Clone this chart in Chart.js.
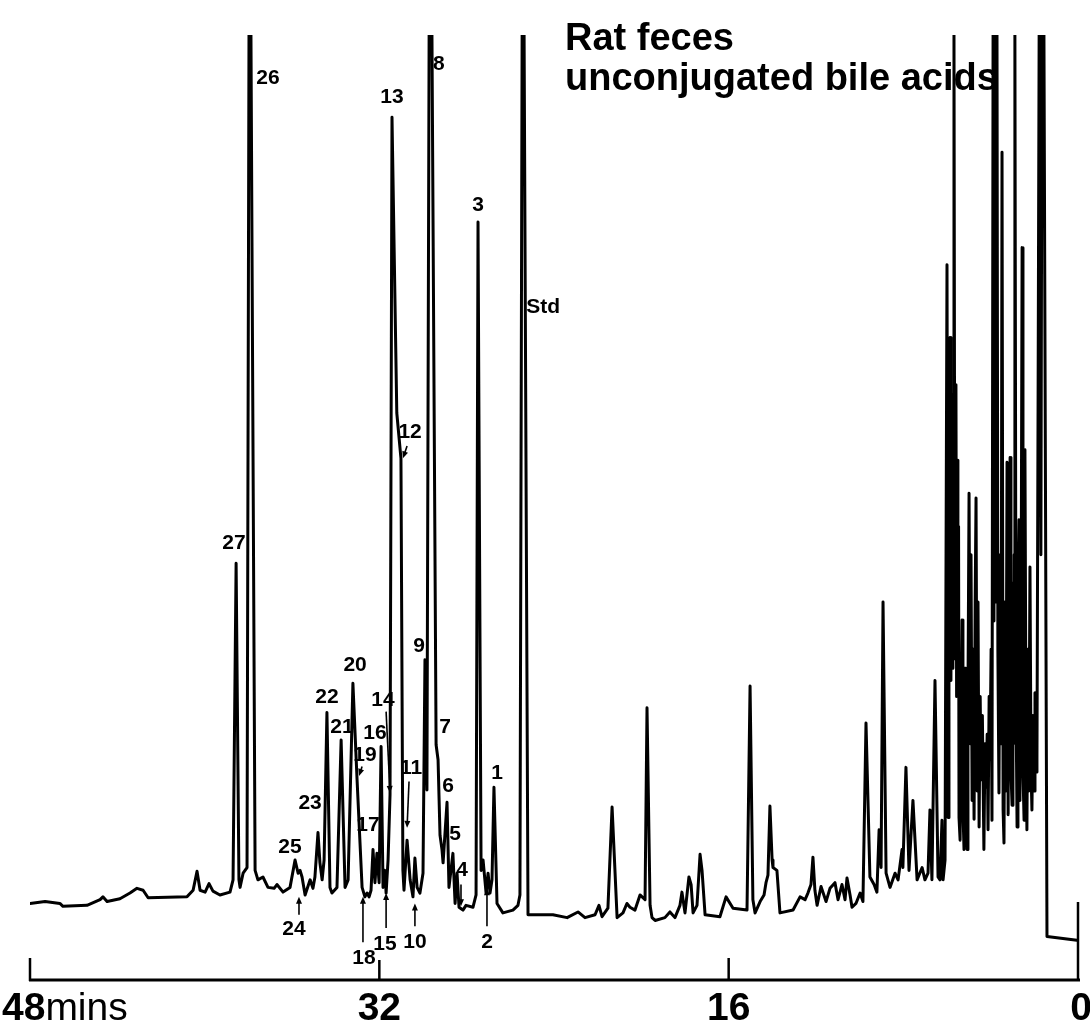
<!DOCTYPE html>
<html>
<head>
<meta charset="utf-8">
<title>Rat feces - unconjugated bile acids</title>
<script src="https://cdn.jsdelivr.net/npm/chart.js@4.4.1/dist/chart.umd.min.js"></script>
<style>
  html, body { margin: 0; padding: 0; background: #fff; }
  #wrap { width: 1090px; height: 1026px; }
</style>
</head>
<body>
<div id="wrap"><canvas id="gc" width="1090" height="1026"></canvas></div>
<script>
// GC recorder trace, rat feces unconjugated bile acids
// x = retention time in minutes (runs 48 -> 0), y = % of recorder full scale

const tickValues = [48, 32, 16, 0];
const tickLabels = ['48', '32', '16', '0'];
const tickUnit = 'mins';

const titleLines = ['Rat feces', 'unconjugated bile acids'];

// trace, [min, %]
const traceEarly = [
  [48.00, 8.1], [47.31, 8.3], [46.63, 8.1], [46.49, 7.8], [45.39, 7.9], [44.79, 8.5], [44.66, 8.8],
  [44.47, 8.3], [43.88, 8.6], [43.42, 9.2], [43.10, 9.7], [42.82, 9.5], [42.59, 8.7], [40.81, 8.8],
  [40.53, 9.5], [40.35, 11.5], [40.21, 9.5], [39.98, 9.3], [39.80, 10.2], [39.62, 9.4], [39.30, 9.0],
  [38.84, 9.3], [38.70, 10.6], [38.56, 44.1], [38.43, 10.6], [38.38, 9.8], [38.24, 11.3], [38.06, 11.9],
  [37.97, 100], [37.88, 100], [37.69, 11.6], [37.56, 10.6], [37.33, 10.9], [37.10, 9.8], [36.82, 9.7],
  [36.69, 10.1], [36.41, 9.3]
];

const traceBileAcids = [
  [36.09, 9.8], [35.86, 12.7], [35.72, 11.3], [35.63, 11.6], [35.54, 10.9], [35.40, 9.0], [35.17, 10.6],
  [35.04, 9.7], [34.95, 10.9], [34.81, 15.6], [34.72, 12.4], [34.62, 10.6], [34.53, 12.7], [34.40, 28.3],
  [34.26, 9.8], [34.17, 9.2], [33.94, 9.8], [33.75, 25.4], [33.57, 9.8], [33.43, 10.6], [33.21, 31.4],
  [33.02, 21.2], [32.79, 9.8], [32.66, 8.8], [32.56, 9.2], [32.47, 8.8], [32.38, 9.5], [32.29, 13.8],
  [32.20, 10.3], [32.11, 13.4], [32.01, 10.3], [31.92, 24.7], [31.83, 9.8], [31.74, 11.6], [31.69, 9.2],
  [31.60, 12.7], [31.51, 19.6], [31.42, 91.3], [31.20, 60.0], [31.01, 55.2], [30.92, 11.6], [30.87, 9.5],
  [30.73, 14.8], [30.59, 10.6], [30.46, 8.8], [30.37, 12.9], [30.27, 9.8], [30.14, 9.2], [30.00, 11.3],
  [29.91, 33.9], [29.82, 20.1], [29.72, 100], [29.59, 100], [29.40, 24.9], [29.31, 23.3], [29.22, 15.3],
  [29.13, 13.8], [29.08, 12.4], [28.90, 18.8], [28.81, 9.8], [28.72, 11.6], [28.63, 13.4], [28.53, 8.1],
  [28.44, 11.3], [28.35, 7.7], [28.17, 7.4], [28.03, 7.9], [27.71, 7.7], [27.57, 9.0], [27.48, 80.2],
  [27.34, 11.6], [27.25, 12.7], [27.11, 9.2], [27.02, 11.3], [26.93, 9.2], [26.84, 10.6], [26.75, 20.4],
  [26.61, 8.1], [26.34, 7.1], [25.88, 7.4], [25.65, 7.9], [25.56, 9.0], [25.46, 100], [25.37, 100],
  [25.19, 6.9], [24.64, 6.9]
];

const traceMiddle = [
  [24.05, 6.9], [23.40, 6.6], [22.90, 7.2], [22.58, 6.6], [22.12, 6.9], [21.94, 7.9], [21.80, 6.7],
  [21.53, 7.6], [21.34, 18.3], [21.11, 6.6], [20.84, 7.1], [20.66, 8.1], [20.52, 7.7], [20.29, 7.4],
  [20.06, 9.0], [19.83, 8.5], [19.74, 28.8], [19.60, 7.9], [19.51, 6.6], [19.37, 6.3], [18.92, 6.6],
  [18.69, 7.2], [18.46, 6.6], [18.23, 7.9], [18.14, 9.3], [18.00, 7.1], [17.82, 10.9], [17.72, 10.1],
  [17.63, 7.1], [17.45, 7.9], [17.31, 13.3], [17.22, 11.6], [17.08, 6.9], [16.40, 6.7], [16.12, 8.8],
  [15.80, 7.6], [15.16, 7.4], [15.02, 31.1], [14.89, 8.5], [14.79, 7.1], [14.56, 8.3], [14.38, 9.0],
  [14.29, 10.3], [14.20, 11.1], [14.11, 18.4], [14.01, 12.7], [13.97, 11.9], [13.79, 11.6], [13.65, 7.1],
  [13.05, 7.4], [12.73, 8.8], [12.50, 8.5], [12.37, 9.2], [12.23, 10.1], [12.14, 13.0], [12.05, 9.5],
  [11.95, 7.9], [11.77, 9.9], [11.54, 8.3], [11.36, 9.7], [11.13, 10.3], [10.99, 8.5], [10.81, 10.1],
  [10.67, 8.5], [10.58, 10.8], [10.44, 9.0], [10.35, 7.7], [10.17, 8.1], [9.98, 9.2], [9.85, 8.3],
  [9.71, 27.2], [9.53, 10.9], [9.34, 10.1], [9.21, 9.3], [9.11, 15.9], [9.02, 11.9], [8.93, 40.0],
  [8.79, 11.3], [8.61, 9.8], [8.38, 11.3], [8.24, 10.6], [8.06, 13.8], [8.02, 11.9], [7.88, 22.5],
  [7.74, 11.6], [7.56, 19.0], [7.37, 10.6], [7.14, 11.9], [7.01, 10.6], [6.87, 11.3], [6.78, 18.0],
  [6.69, 10.6], [6.55, 31.7], [6.41, 10.9], [6.32, 10.6], [6.23, 16.9], [6.18, 10.6], [6.09, 12.7]
];

const traceSolventFront = [
  [6.00, 75.7], [5.95, 17.2], [5.91, 45.0], [5.86, 68.0], [5.82, 31.7], [5.79, 62.0], [5.77, 33.0],
  [5.73, 60.0], [5.70, 34.0], [5.68, 100], [5.64, 36.0], [5.61, 58.0], [5.59, 63.0], [5.56, 30.0],
  [5.54, 55.0], [5.50, 32.0], [5.47, 48.0], [5.45, 17.2], [5.40, 14.8], [5.31, 38.1], [5.27, 18.0],
  [5.22, 13.8], [5.17, 33.0], [5.13, 29.6], [5.08, 13.8], [5.04, 30.0], [4.99, 51.5], [4.94, 25.0],
  [4.90, 45.0], [4.85, 19.0], [4.81, 35.0], [4.76, 17.0], [4.71, 40.0], [4.67, 51.0], [4.62, 20.0],
  [4.58, 40.0], [4.53, 16.2], [4.48, 30.0], [4.44, 21.2], [4.38, 28.0], [4.31, 13.8], [4.26, 25.0],
  [4.21, 20.4], [4.16, 26.0], [4.12, 15.9], [4.07, 30.0], [4.03, 23.3], [3.98, 35.0], [3.94, 16.9],
  [3.89, 100], [3.85, 38.0], [3.80, 100], [3.76, 40.0], [3.71, 100], [3.67, 35.0], [3.62, 19.8],
  [3.57, 45.0], [3.52, 25.0], [3.48, 87.6], [3.43, 18.0], [3.39, 14.5], [3.34, 40.0], [3.30, 20.0],
  [3.25, 54.8], [3.20, 17.5], [3.16, 45.0], [3.11, 55.3], [3.07, 22.0], [3.02, 18.5], [2.98, 42.0],
  [2.95, 25.0], [2.92, 45.0], [2.89, 100], [2.84, 30.0], [2.79, 16.2], [2.75, 40.0], [2.70, 48.7],
  [2.66, 19.0], [2.61, 35.0], [2.56, 77.5], [2.52, 22.0], [2.47, 16.9], [2.43, 56.1], [2.38, 25.0],
  [2.34, 15.9], [2.29, 35.0], [2.25, 20.0], [2.20, 43.7], [2.15, 22.0], [2.11, 18.0], [2.06, 28.0],
  [2.01, 20.0], [1.97, 30.4], [1.92, 22.0], [1.88, 23.3], [1.83, 60.0], [1.78, 100], [1.70, 45.0],
  [1.65, 100], [1.56, 100], [1.42, 4.6], [0.05, 4.2], [0.00, 4.2]
];

// peak numbers as printed on the chart, anchored in [min, %]
const peakNames = ['1', '2', '3', '4', '5', '6', '7', '8', '9', '10', '11', '12', '13', '14',
  '15', '16', '17', '18', '19', '20', '21', '22', '23', '24', '25', '26', '27', 'Std'];
const peakLabelTime = [26.61, 27.07, 27.48, 28.21, 28.53, 28.85, 28.99, 29.27, 30.18, 30.37, 30.55, 30.59, 31.42, 31.83,
  31.74, 32.20, 32.52, 32.70, 32.66, 33.11, 33.71, 34.40, 35.17, 35.91, 36.09, 37.10, 38.66, 24.50];
const peakLabelLevel = [21.9, 4.0, 82.0, 11.6, 15.4, 20.5, 26.7, 96.9, 35.3, 4.0, 22.4, 58.0, 93.4, 29.6,
  3.8, 26.1, 16.4, 2.3, 23.8, 33.3, 26.7, 29.9, 18.7, 5.4, 14.1, 95.4, 46.2, 71.2];

// little arrows from a number to its peak: tail and head in [min, %]
const arrowNames = ['2', '4', '10', '11', '12', '14', '15', '18', '19', '24'];
const arrowTail = [[27.07, 5.7], [28.26, 10.1], [30.37, 5.7], [30.64, 21.0], [30.73, 56.5],
  [31.69, 28.4], [31.69, 5.5], [32.75, 4.0], [32.79, 22.6], [35.68, 6.9]];
const arrowHead = [[27.07, 9.7], [28.26, 7.8], [30.37, 8.1], [30.73, 16.1], [30.92, 55.2],
  [31.51, 19.8], [31.69, 9.2], [32.75, 8.8], [32.93, 21.6], [35.68, 8.8]];

const FONT = "'Liberation Sans', Arial, Helvetica, sans-serif";

const trace = [...traceEarly, ...traceBileAcids, ...traceMiddle, ...traceSolventFront]
  .map(([t, v]) => ({ x: t, y: v }));

function drawArrow(ctx, x1, y1, x2, y2) {
  const ang = Math.atan2(y2 - y1, x2 - x1);
  const len = 7, half = 3;
  ctx.beginPath();
  ctx.moveTo(x1, y1);
  ctx.lineTo(x2 - Math.cos(ang) * len * 0.6, y2 - Math.sin(ang) * len * 0.6);
  ctx.stroke();
  ctx.beginPath();
  ctx.moveTo(x2, y2);
  ctx.lineTo(x2 - Math.cos(ang) * len - Math.sin(ang) * half, y2 - Math.sin(ang) * len + Math.cos(ang) * half);
  ctx.lineTo(x2 - Math.cos(ang) * len + Math.sin(ang) * half, y2 - Math.sin(ang) * len - Math.cos(ang) * half);
  ctx.closePath();
  ctx.fill();
}

const chartDecor = {
  id: 'chartDecor',
  afterDraw(chart) {
    const { ctx } = chart;
    const xs = chart.scales.x, ys = chart.scales.y;
    const y0 = ys.getPixelForValue(0);
    ctx.save();
    ctx.fillStyle = '#000';
    ctx.strokeStyle = '#000';

    // time axis with upward ticks
    ctx.lineWidth = 3;
    ctx.beginPath();
    ctx.moveTo(xs.getPixelForValue(48) - 1, y0);
    ctx.lineTo(xs.getPixelForValue(0) + 2, y0);
    ctx.stroke();
    const tickLen = [22, 20, 22, 78];
    ctx.lineWidth = 2.5;
    tickValues.forEach((v, i) => {
      const px = xs.getPixelForValue(v);
      ctx.beginPath();
      ctx.moveTo(px, y0 + 1);
      ctx.lineTo(px, y0 - tickLen[i]);
      ctx.stroke();
    });

    ctx.textBaseline = 'alphabetic';
    const labelY = y0 + 40;
    tickValues.forEach((v, i) => {
      const px = xs.getPixelForValue(v);
      ctx.font = 'bold 39px ' + FONT;
      if (i === 0) {
        ctx.textAlign = 'left';
        const w = ctx.measureText(tickLabels[i]).width;
        ctx.fillText(tickLabels[i], 2, labelY);
        ctx.font = '39px ' + FONT;
        ctx.fillText(tickUnit, 2 + w, labelY);
      } else {
        ctx.textAlign = 'center';
        ctx.fillText(tickLabels[i], px + (i === 3 ? 3 : 0), labelY);
      }
    });

    // title block
    ctx.textAlign = 'left';
    ctx.font = 'bold 38px ' + FONT;
    ctx.fillText(titleLines[0], 565, 50);
    ctx.fillText(titleLines[1], 565, 90);

    // peak numbers
    ctx.font = 'bold 21px ' + FONT;
    ctx.textAlign = 'center';
    ctx.textBaseline = 'middle';
    peakNames.forEach((name, i) => {
      ctx.fillText(name, xs.getPixelForValue(peakLabelTime[i]), ys.getPixelForValue(peakLabelLevel[i]));
    });

    ctx.lineWidth = 1.6;
    arrowNames.forEach((name, i) => {
      drawArrow(ctx,
        xs.getPixelForValue(arrowTail[i][0]), ys.getPixelForValue(arrowTail[i][1]),
        xs.getPixelForValue(arrowHead[i][0]), ys.getPixelForValue(arrowHead[i][1]));
    });
    ctx.restore();
  }
};

new Chart(document.getElementById('gc'), {
  type: 'line',
  data: {
    datasets: [{
      label: 'detector response',
      data: trace,
      borderColor: '#000',
      borderWidth: 3,
      borderJoinStyle: 'round',
      borderCapStyle: 'round',
      pointRadius: 0,
      tension: 0,
      fill: false
    }]
  },
  options: {
    responsive: false,
    animation: false,
    devicePixelRatio: 1,
    layout: { padding: { left: 30, right: 12, top: 35, bottom: 46 } },
    scales: {
      x: { type: 'linear', min: 0, max: 48, reverse: true, display: false },
      y: { min: 0, max: 100, display: false }
    },
    plugins: { legend: { display: false }, tooltip: { enabled: false }, title: { display: false } }
  },
  plugins: [chartDecor]
});
</script>
</body>
</html>
